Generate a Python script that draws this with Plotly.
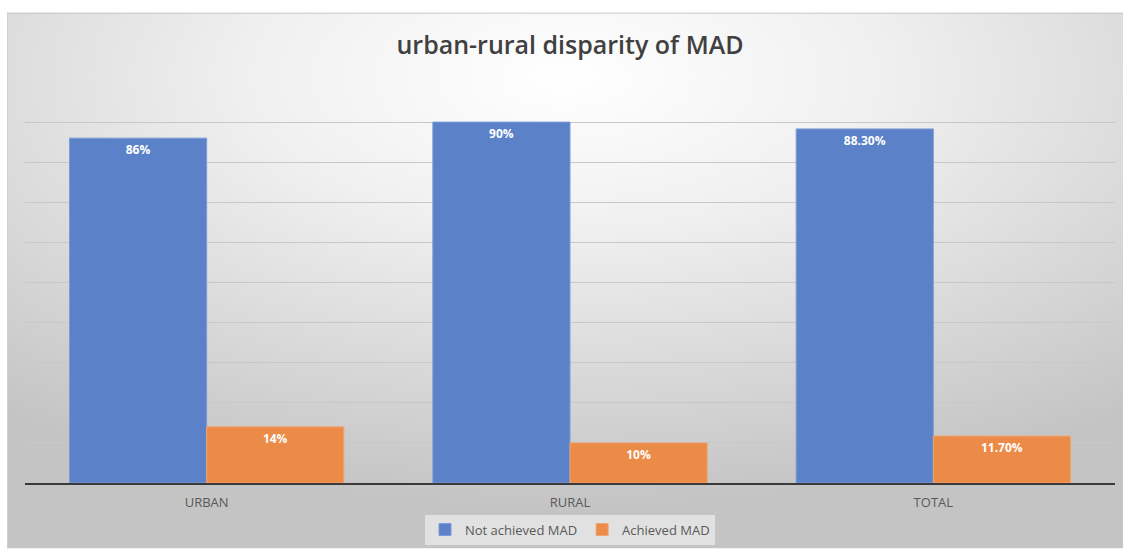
import base64
import plotly.graph_objects as go

categories = ["URBAN", "RURAL", "TOTAL"]
not_achieved = [0.86, 0.90, 0.883]
achieved = [0.14, 0.10, 0.117]
not_achieved_labels = ["86%", "90%", "88.30%"]
achieved_labels = ["14%", "10%", "11.70%"]

W, H = 1123, 552
L, R, T, B = 25, 8, 82, 66
pw, ph = W - L - R, H - T - B

svg = (
    "<svg xmlns='http://www.w3.org/2000/svg' width='1116' height='540' viewBox='0 0 1116 540' preserveAspectRatio='none'>"
    "<defs><radialGradient id='g' cx='0.5' cy='0.12' r='0.8'>"
    "<stop offset='0' stop-color='#ffffff'/><stop offset='0.35' stop-color='#f0f0f0'/>"
    "<stop offset='1' stop-color='#c4c4c4'/></radialGradient></defs>"
    "<rect x='0' y='0' width='1116' height='540' fill='url(#g)'/>"
    "<line x1='0' y1='0.5' x2='1116' y2='0.5' stroke='#bcbcbc' stroke-width='1'/>"
    "<line x1='0.5' y1='0' x2='0.5' y2='540' stroke='#d0d0d0' stroke-width='1'/>"
    "</svg>"
)
src = "data:image/svg+xml;base64," + base64.b64encode(svg.encode()).decode()

fig = go.Figure()
fig.add_trace(go.Bar(
    x=categories, y=not_achieved, name="Not achieved MAD",
    text=not_achieved_labels, textposition="inside", insidetextanchor="end",
    textfont=dict(color="white", size=12, family="Open Sans", weight="bold"),
    marker=dict(color="#5b81c8", line=dict(color="#7d9bd6", width=1)),
    textangle=0,
))
fig.add_trace(go.Bar(
    x=categories, y=achieved, name="Achieved MAD",
    text=achieved_labels, textposition="inside", insidetextanchor="end",
    textfont=dict(color="white", size=12, family="Open Sans", weight="bold"),
    marker=dict(color="#ec8a48", line=dict(color="#f0a472", width=1)),
    textangle=0,
))

fig.update_layout(
    width=W, height=H,
    margin=dict(l=L, r=R, t=T, b=B),
    paper_bgcolor="white",
    plot_bgcolor="rgba(0,0,0,0)",
    barmode="group",
    bargap=0.245,
    bargroupgap=0,
    title=dict(
        text="urban-rural disparity of MAD",
        x=0.5, xanchor="center", xref="paper",
        y=1 - 45 / H, yanchor="middle",
        font=dict(family="Open Sans", size=25, color="#404040", weight=600),
    ),
    font=dict(family="Open Sans", color="#595959"),
    legend=dict(
        orientation="h", x=0.5, xanchor="center",
        y=-(548 - (H - B)) / ph, yanchor="bottom",
        bgcolor="rgba(235,235,235,0.75)",
        font=dict(size=13, color="#595959"),
        itemwidth=30,
    ),
    images=[dict(
        source=src, xref="paper", yref="paper",
        x=(7 - L) / pw, y=1 + (T - 12) / ph,
        sizex=1116 / pw, sizey=540 / ph,
        xanchor="left", yanchor="top",
        sizing="stretch", layer="below",
    )],
)
fig.update_xaxes(
    showline=True, linecolor="#3a3a3a", linewidth=2,
    ticks="", tickfont=dict(size=13, color="#595959"),
    ticklabelstandoff=6,
    showgrid=False,
)
fig.update_yaxes(
    range=[0, 1], dtick=0.1, showticklabels=False,
    showgrid=True, gridcolor="#c8c8c8", gridwidth=1,
    zeroline=False, showline=False,
)

fig.write_html("out.html")
